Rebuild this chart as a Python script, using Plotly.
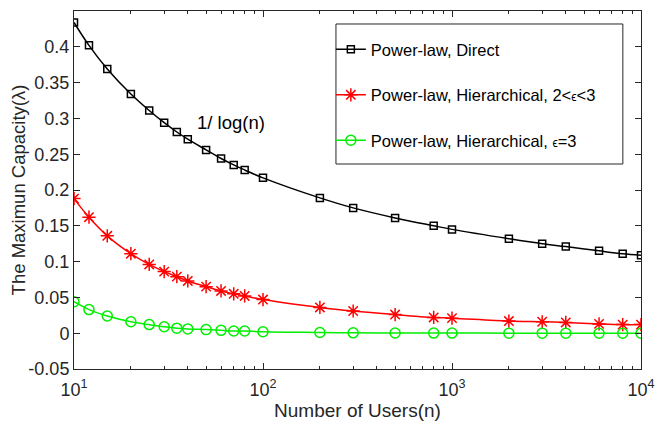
import plotly.graph_objects as go

users = [10, 12, 15, 20, 25, 30, 35, 40, 50, 60, 70, 80, 100, 200, 300, 500, 800, 1000, 2000, 3000, 4000, 6000, 8000, 10000]
direct = [0.434, 0.402, 0.369, 0.334, 0.311, 0.294, 0.281, 0.271, 0.256, 0.244, 0.235, 0.228, 0.217, 0.189, 0.175, 0.161, 0.150, 0.145, 0.132, 0.125, 0.121, 0.115, 0.111, 0.109]
hier_23 = [0.188, 0.162, 0.136, 0.111, 0.096, 0.086, 0.079, 0.073, 0.065, 0.059, 0.055, 0.052, 0.047, 0.036, 0.031, 0.026, 0.022, 0.021, 0.017, 0.016, 0.015, 0.013, 0.012, 0.012]
hier_3 = [0.044, 0.033, 0.024, 0.016, 0.012, 0.009, 0.007, 0.006, 0.005, 0.004, 0.003, 0.003, 0.002, 0.001, 0.0005, 0.0003, 0.0002, 0.0002, 0.0001, 0.0001, 0.0001, 0.0, 0.0, 0.0]

x_tickvals = [10, 100, 1000, 10000]
x_ticktext = ["10<sup>1</sup>", "10<sup>2</sup>", "10<sup>3</sup>", "10<sup>4</sup>"]
y_tickvals = [-0.05, 0, 0.05, 0.1, 0.15, 0.2, 0.25, 0.3, 0.35, 0.4]
y_ticktext = ["-0.05", "0", "0.05", "0.1", "0.15", "0.2", "0.25", "0.3", "0.35", "0.4"]

FONT = "Liberation Sans, Arial, sans-serif"
eps = "<span style='font-size:12px'>ϵ</span>"

fig = go.Figure()
fig.add_trace(go.Scatter(
    x=users, y=direct, mode="lines+markers", name="Power-law, Direct",
    legendgroup="a",
    line=dict(color="black", width=1.5, shape="spline"),
    marker=dict(symbol="square-open", size=7, color="black", line=dict(width=1.5))))
fig.add_trace(go.Scatter(
    x=users, y=hier_23, mode="lines+markers", name="Power-law, Hierarchical, 2&lt;" + eps + "&lt;3",
    legendgroup="b",
    line=dict(color="#ff0000", width=1.5, shape="spline"),
    marker=dict(symbol="asterisk-open", size=11, color="#ff0000", line=dict(width=1.5, color="#ff0000"))))
fig.add_trace(go.Scatter(
    x=users, y=hier_3, mode="lines+markers", name="Power-law, Hierarchical, " + eps + "=3",
    legendgroup="c",
    line=dict(color="#00ee00", width=1.5, shape="spline"),
    marker=dict(symbol="circle-open", size=10, color="#00ee00", line=dict(width=1.5))))

fig.add_annotation(x=1.83, y=0.294, xref="x", yref="y", text="1/ log(n)",
                   showarrow=False, font=dict(size=18.5, color="black", family=FONT))

# legend frame
fig.add_shape(type="rect", xref="paper", yref="paper",
              x0=0.462, x1=0.968, y0=0.5726, y1=0.9637,
              line=dict(color="#262626", width=1), fillcolor="white", layer="above")

# page body has an 8px margin, so the figure is shrunk to fit the 668x422 window
fig.update_layout(
    width=660, height=414,
    margin=dict(l=66, r=27, t=3, b=53),
    paper_bgcolor="white", plot_bgcolor="white",
    font=dict(family=FONT, size=18, color="#262626"),
    legend=dict(x=0.453, y=0.941, xanchor="left", yanchor="top",
                borderwidth=0, bgcolor="rgba(0,0,0,0)",
                tracegroupgap=21, traceorder="grouped",
                font=dict(size=16.5, color="black", family=FONT)),
    showlegend=True,
)
fig.update_xaxes(
    type="log", range=[1, 4], automargin=False,
    tickvals=x_tickvals, ticktext=x_ticktext,
    ticks="inside", ticklen=6, tickcolor="#262626",
    showline=True, linecolor="#262626", linewidth=1, mirror="ticks",
    showgrid=False, zeroline=False, ticklabelstandoff=4,
    minor=dict(ticks="inside", ticklen=3, tickcolor="#262626", showgrid=False,
               tickvals=[v * m for v in [10, 100, 1000] for m in range(2, 10)]),
    title=dict(text="Number of Users(n)", font=dict(size=19), standoff=4),
    tickfont=dict(size=18),
)
fig.update_yaxes(
    range=[-0.05, 0.45], automargin=False,
    tickvals=y_tickvals, ticktext=y_ticktext,
    ticks="inside", ticklen=6, tickcolor="#262626",
    showline=True, linecolor="#262626", linewidth=1, mirror="ticks",
    showgrid=False, zeroline=False,
    title=dict(text="The Maximun Capacity(λ)", font=dict(size=18.5), standoff=7),
    tickfont=dict(size=18),
)

fig.write_html("out.html")
